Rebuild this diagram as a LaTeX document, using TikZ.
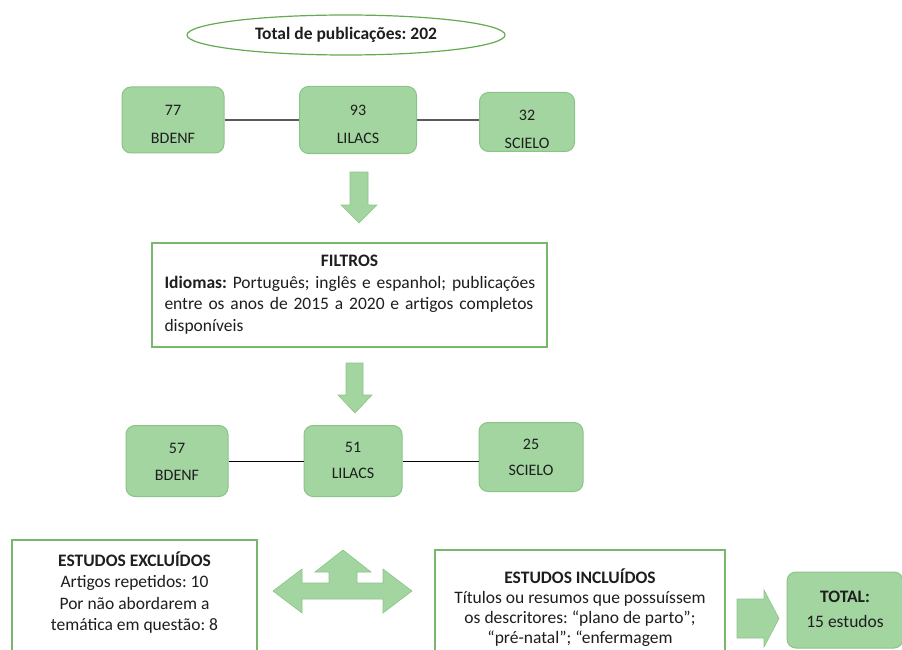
\documentclass[tikz,border=0pt]{standalone}
\usepackage{fontspec}
\setmainfont{Carlito}
\usetikzlibrary{shapes.geometric}
\definecolor{gfill}{RGB}{163,213,160}
\definecolor{gline}{RGB}{140,196,136}
\definecolor{bline}{RGB}{120,184,108}
\definecolor{eline}{RGB}{100,170,80}
\definecolor{txt}{RGB}{30,30,30}
\frenchspacing
\begin{document}
\begin{tikzpicture}[x=1pt,y=-1pt,
  gbox/.style={draw=gline, line width=1pt, fill=gfill, rounded corners=9pt, inner sep=0pt},
  gtext/.style={align=center, inner sep=0pt, text=txt, font=\fontsize{16}{28}\selectfont},
  wbox/.style={draw=bline, line width=1.6pt, fill=white, inner sep=0pt},
  btext/.style={align=center, inner sep=0pt, text=txt, font=\fontsize{17.5}{21.5}\selectfont},
  blockarrow/.style={fill=gfill, draw=gline, line width=0.6pt, line join=miter},
  link/.style={draw=gray!70!black, line width=1.2pt}]
\useasboundingbox (0,0) rectangle (902,650);
\clip (0,0) rectangle (902,650);
\fill[white] (0,0) rectangle (902,650);

% top ellipse
\node[draw=eline, ellipse, line width=1.2pt, minimum width=318, minimum height=40, inner sep=0pt, text=txt, font=\bfseries\fontsize{17.5}{20}\selectfont] (total) at (346,35) {Total de publicações: 202};

% row 1
\node[gbox, minimum width=102, minimum height=66] (b1) at (173,120) {};
\node[gtext] (b1t) at (173,124.5) {77\\BDENF};
\node[gbox, minimum width=117, minimum height=67] (l1) at (358,120) {};
\node[gtext] (l1t) at (358,124) {93\\LILACS};
\node[gbox, minimum width=95, minimum height=59] (s1) at (527,122) {};
\node[gtext] (s1t) at (527,129) {32\\SCIELO};
\draw[link] (b1.east) -- (b1.east -| l1.west);
\draw[link] (l1.east) -- (l1.east -| s1.west);

% arrow 1
\path[blockarrow] (350,172) -- (368,172) -- (368,205) -- (377,205) -- (359,223) -- (341,205) -- (350,205) -- cycle;

% filtros
\node[wbox, minimum width=395, minimum height=104] (filt) at (349.5,295) {};
\node[inner sep=0pt, text width=380pt, align=left, text=txt, font=\fontsize{17.5}{21.5}\selectfont] (filtt) at (354.5,294.5)
 {\hyphenpenalty=10000\makebox[370pt][c]{\textbf{FILTROS}}\\\textbf{Idiomas:} Português; inglês e espanhol; publicações\\entre os anos de 2015 a 2020 e artigos completos\\disponíveis};

% arrow 2
\path[blockarrow] (346,363) -- (363,363) -- (363,395) -- (372,395) -- (355,413) -- (338,395) -- (346,395) -- cycle;

% row 2
\node[gbox, minimum width=102, minimum height=71] (b2) at (177,461) {};
\node[gtext, font=\fontsize{16}{27}\selectfont] (b2t) at (177,461.5) {57\\BDENF};
\node[gbox, minimum width=98, minimum height=71] (l2) at (353,461) {};
\node[gtext, font=\fontsize{16}{26}\selectfont] (l2t) at (353,460.5) {51\\LILACS};
\node[gbox, minimum width=104, minimum height=69] (s2) at (531,457) {};
\node[gtext, font=\fontsize{16}{26}\selectfont] (s2t) at (531,457.5) {25\\SCIELO};
\draw[black, line width=1pt] (b2.east) -- (b2.east -| l2.west);
\draw[black, line width=1pt] (l2.east) -- (l2.east -| s2.west);

% excluded
\node[wbox, minimum width=245, minimum height=122] (exc) at (134.5,601) {};
\node[btext] (exct) at (134.5,592.5) {\textbf{ESTUDOS EXCLUÍDOS}\\Artigos repetidos: 10\\Por não abordarem a\\temática em questão: 8};

% three-way arrow
\path[blockarrow] (343,550) -- (371,572) -- (357,572) -- (357,583) -- (383,583) -- (383,569) -- (412,591) -- (383,613) -- (383,599) -- (302,599) -- (302,613) -- (273,591) -- (302,569) -- (302,583) -- (329,583) -- (329,572) -- (315,572) -- cycle;

% included
\node[wbox, minimum width=290, minimum height=112] (inc) at (580,606) {};
\node[btext, font=\fontsize{17.5}{20}\selectfont] (inct) at (580,607.5) {\textbf{ESTUDOS INCLUÍDOS}\\Títulos ou resumos que possuíssem\\os descritores: “plano de parto”;\\“pré-natal”; “enfermagem};

% arrow to total
\path[blockarrow] (737,599) -- (764,599) -- (764,590) -- (779,618.5) -- (764,647) -- (764,638) -- (737,638) -- cycle;

% total
\node[gbox, minimum width=116, minimum height=76] (tot) at (845,610) {};
\node[gtext, font=\fontsize{17.5}{25}\selectfont] (tott) at (845,609.5) {\textbf{TOTAL:}\\15 estudos};
\end{tikzpicture}
\end{document}
